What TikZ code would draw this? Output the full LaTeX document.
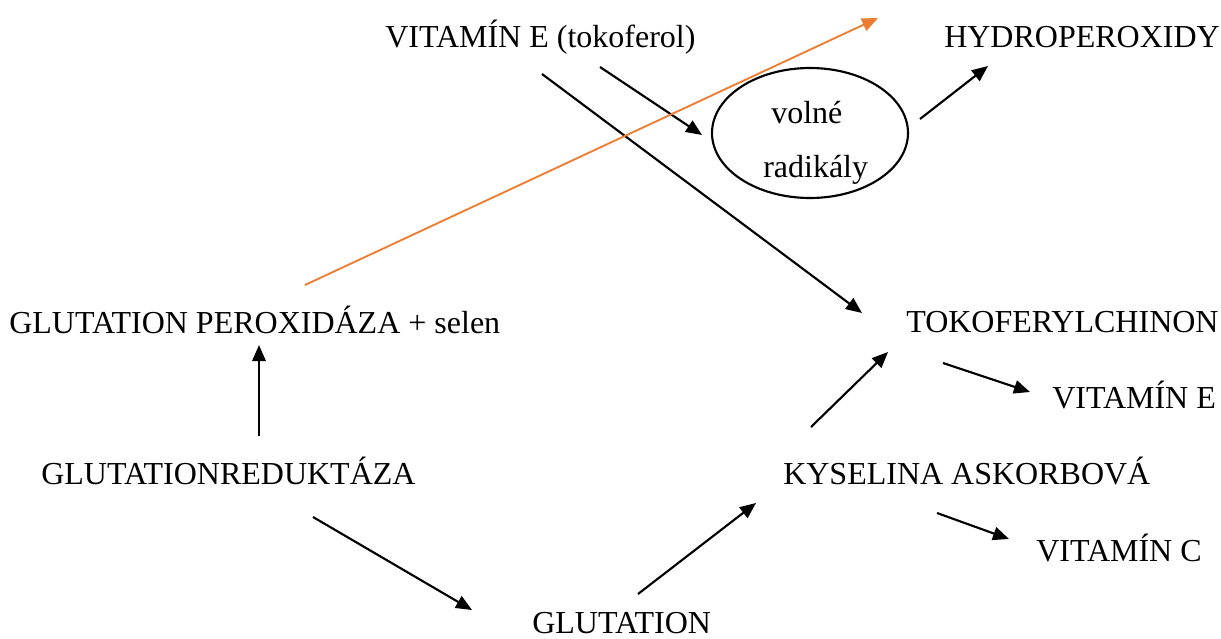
\documentclass[tikz,border=0pt]{standalone}
\usepackage{fontspec}
\setmainfont{Liberation Serif}
\usetikzlibrary{arrows.meta}
\definecolor{arroworange}{HTML}{ED7D31}
\tikzset{
  label text/.style={anchor=base west, inner sep=0pt, font=\fontsize{24}{28}\selectfont},
  flow arrow/.style={line width=1.6pt, -{Triangle[length=12pt,width=10pt]}},
}
\begin{document}
\begin{tikzpicture}[x=0.75pt,y=-0.75pt]
                \useasboundingbox (0,0) rectangle (1221,639);

                % Marking text nodes
                \node [label text] (vitEtok) at (385,47) {VITAMÍN E (tokoferol)};%
                \node [label text] (hydro) at (944,47) {HYDROPEROXIDY};%
                \node [label text] (gpx) at (9,333) {GLUTATION PEROXIDÁZA + selen};%
                \node [label text] (tokochin) at (906,332) {TOKOFERYLCHINON};%
                \node [label text] (vitE) at (1052,408) {VITAMÍN E};%
                \node [label text] (gred) at (41,484) {GLUTATIONREDUKTÁZA};%
                \node [label text] (askorb) at (783,484) {KYSELINA ASKORBOVÁ};%
                \node [label text] (vitC) at (1036,561) {VITAMÍN C};%
                \node [label text] (glut) at (532,633) {GLUTATION};%

                % Drawing ellipse of free radicals
                \draw [line width=1.6pt] (810,133) ellipse [x radius=98, y radius=65];%
                \node [label text] (volne) at (771,123) {volné};%
                \node [label text] (radik) at (763,177) {radikály};%

                % Arrow end points
                \coordinate (a1) at (542,74);  \coordinate (b1) at (862,313);
                \coordinate (a2) at (600,67);  \coordinate (b2) at (702,135);
                \coordinate (a3) at (920,119); \coordinate (b3) at (988,66);
                \coordinate (a4) at (305,285); \coordinate (b4) at (878,18);
                \coordinate (a5) at (259,436); \coordinate (b5) at (259,345);
                \coordinate (a6) at (313,517); \coordinate (b6) at (472,610);
                \coordinate (a7) at (638,594); \coordinate (b7) at (756,503);
                \coordinate (a8) at (811,427); \coordinate (b8) at (888,352);
                \coordinate (a9) at (943,363); \coordinate (b9) at (1030,392);
                \coordinate (a10) at (937,513); \coordinate (b10) at (1009,539);

                % Drawing arrows
                \draw [flow arrow] (a1) -- (b1);%
                \draw [flow arrow] (a2) -- (b2);%
                \draw [flow arrow] (a3) -- (b3);%
                \draw [flow arrow, color=arroworange, line width=1.4pt] (a4) -- (b4);%
                \draw [flow arrow] (a5) -- (b5);%
                \draw [flow arrow] (a6) -- (b6);%
                \draw [flow arrow] (a7) -- (b7);%
                \draw [flow arrow] (a8) -- (b8);%
                \draw [flow arrow] (a9) -- (b9);%
                \draw [flow arrow] (a10) -- (b10);%
            \end{tikzpicture}
\end{document}
